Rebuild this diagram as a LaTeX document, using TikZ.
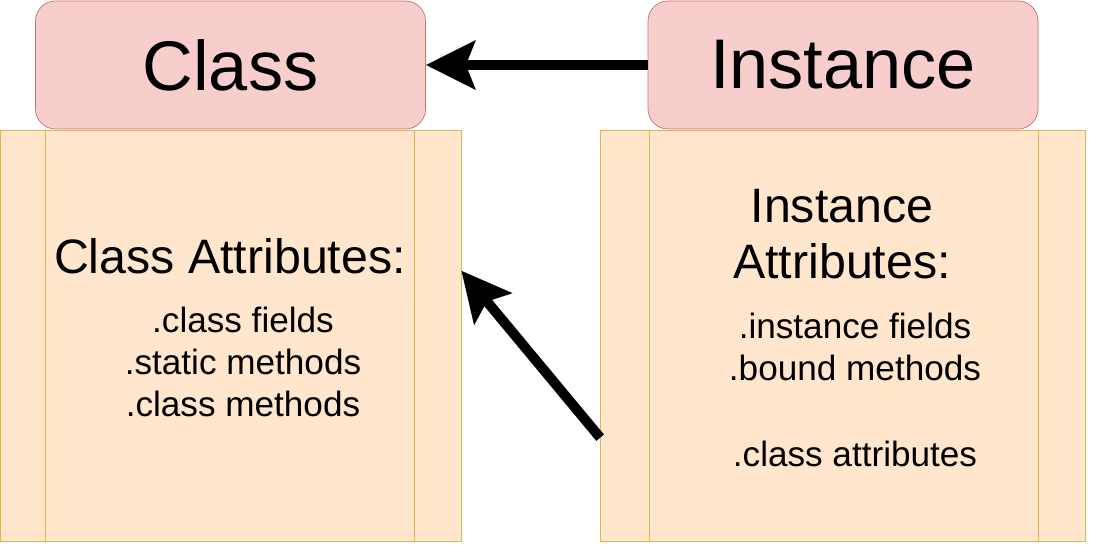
\documentclass[tikz,border=0pt]{standalone}
\usepackage{fontspec}
\setmainfont{Liberation Sans}
\usepackage{tikz}
\usetikzlibrary{arrows.meta,positioning,calc}
\definecolor{headfill}{HTML}{F8CECC}
\definecolor{headline}{HTML}{C8706C}
\definecolor{attrfill}{HTML}{FFE6CC}
\definecolor{attrline}{HTML}{E6B24C}

\begin{document}
\begin{tikzpicture}[
    headbox/.style={draw=headline, fill=headfill, rounded corners=0.4cm, minimum width=7.8cm, minimum height=2.56cm, inner sep=0pt, font=\fontsize{40}{48}\selectfont},
    attrbox/.style={draw=attrline, fill=attrfill, minimum height=8.22cm, inner sep=0pt},
    attrhead/.style={align=center, anchor=base, font=\fontsize{27.5}{32.3}\selectfont},
    attritem/.style={align=center, anchor=base, font=\fontsize{20}{24}\selectfont},
    bigarrow/.style={line width=0.2cm, -{Stealth[length=0.98cm, width=0.96cm, inset=0.18cm]}}
]
    \useasboundingbox (0,0) rectangle (21.96,-11.04);

    % Header boxes
    \node[headbox] (cls) at (4.61,-1.30) {Class};
    \node[headbox] (inst) at (16.86,-1.30) {Instance};

    % Attribute boxes
    \node[attrbox, minimum width=9.22cm, below=0.02cm of cls] (cattr) {};
    \node[attrbox, minimum width=9.70cm, below=0.02cm of inst] (rattr) {};
    \draw[attrline] ($(cattr.north west)+(0.92,0)$) -- ($(cattr.south west)+(0.92,0)$);
    \draw[attrline] ($(cattr.north east)+(-0.94,0)$) -- ($(cattr.south east)+(-0.94,0)$);
    \draw[attrline] ($(rattr.north west)+(0.98,0)$) -- ($(rattr.south west)+(0.98,0)$);
    \draw[attrline] ($(rattr.north east)+(-0.96,0)$) -- ($(rattr.south east)+(-0.96,0)$);

    % Texts (base = last line)
    \node[attrhead] (chead) at (4.60,-5.48) {Class Attributes:};
    \node[attritem] (citems) at (4.86,-8.34) {.class fields\\.static methods\\.class methods};
    \node[attrhead] (rhead) at (16.84,-5.58) {Instance\\Attributes:};
    \node[attritem] (ritems) at (17.10,-9.34) {.instance fields\\.bound methods\\[25pt].class attributes};

    % Arrows
    \coordinate (ctip) at ($(cattr.east)+(0,1.31)$);
    \coordinate (rtail) at ($(rattr.west)+(0,-2.03)$);
    \draw[bigarrow] (inst.west) -- (cls.east);
    \draw[bigarrow] (rtail) -- (ctip);
\end{tikzpicture}
\end{document}
